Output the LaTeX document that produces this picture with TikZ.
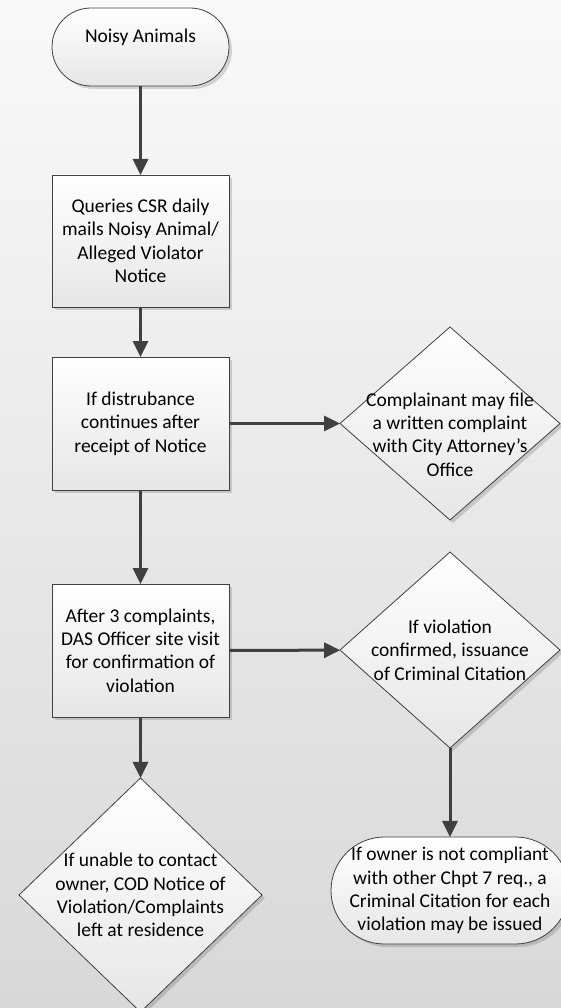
\documentclass[tikz,border=0pt]{standalone}
\usepackage{fontspec}
\setmainfont{Carlito}
\usetikzlibrary{shapes.geometric,shapes.misc,arrows.meta,shadows}
\definecolor{bgtop}{HTML}{F9F9F9}
\definecolor{bgbot}{HTML}{D8D8D8}
\definecolor{edgegray}{HTML}{404040}
\definecolor{fillbot}{HTML}{E6E6E6}

\begin{document}
\begin{tikzpicture}[x=1pt,y=-1pt,
 every node/.style={font=\fontsize{19.5}{23.4}\selectfont,text=black},
 box/.style={draw=edgegray,line width=0.8pt,top color=white,bottom color=fillbot,
  drop shadow={shadow xshift=3pt,shadow yshift=-3pt,fill=black,opacity=0.15},
  inner sep=0pt,outer sep=0pt,align=center},
 terminal/.style={box,rounded rectangle},
 process/.style={box,rectangle,minimum width=177pt,minimum height=133pt},
 decision/.style={box,diamond},
 inside/.style={align=center,inner sep=0pt},
 flow/.style={draw=edgegray,line width=3pt,-{Triangle[length=16pt,width=15pt]}}]
 \useasboundingbox (0,0) rectangle (561,1008);
 \shade[top color=bgtop,bottom color=bgbot] (0,0) rectangle (561,1008);
 \node[terminal,minimum width=177pt,minimum height=78pt,
  label={[inside,yshift=10pt]center:Noisy Animals}] (start) at (140.5,47) {};
 \node[process,minimum height=132pt] (mail) at (140.5,241)
  {Queries CSR daily\\mails Noisy Animal/\\Alleged Violator\\Notice};
 \node[process] (notice) at (140.5,423.5) {If distrubance\\continues after\\receipt of Notice};
 \node[process] (visit) at (140.5,650.5)
  {After 3 complaints,\\DAS Officer site visit\\for confirmation of\\violation};
 \node[decision,minimum width=220pt,minimum height=193pt,
  label={[inside,yshift=-11pt]center:{Complainant may file\\a written complaint\\with City Attorney’s\\Office}}]
  (attorney) at (450,423.5) {};
 \node[decision,minimum width=220pt,minimum height=196pt,
  label={[inside]center:{If violation\\confirmed, issuance\\of Criminal Citation}}]
  (confirmed) at (450,650) {};
 \node[decision,minimum width=243pt,minimum height=234pt,
  label={[inside]center:{If unable to contact\\owner, COD Notice of\\Violation/Complaints\\left at residence}}]
  (contact) at (140.5,895) {};
 \node[terminal,minimum width=238pt,minimum height=107pt,
  label={[inside]center:{If owner is not compliant\\with other Chpt 7 req., a\\Criminal Citation for each\\violation may be issued}}]
  (citation) at (450,890.5) {};
 \foreach \from/\to in {start/mail,mail/notice,notice/attorney,notice/visit,
  visit/confirmed,visit/contact,confirmed/citation}
  \draw[flow] (\from) -- (\to);
\end{tikzpicture}
\end{document}
